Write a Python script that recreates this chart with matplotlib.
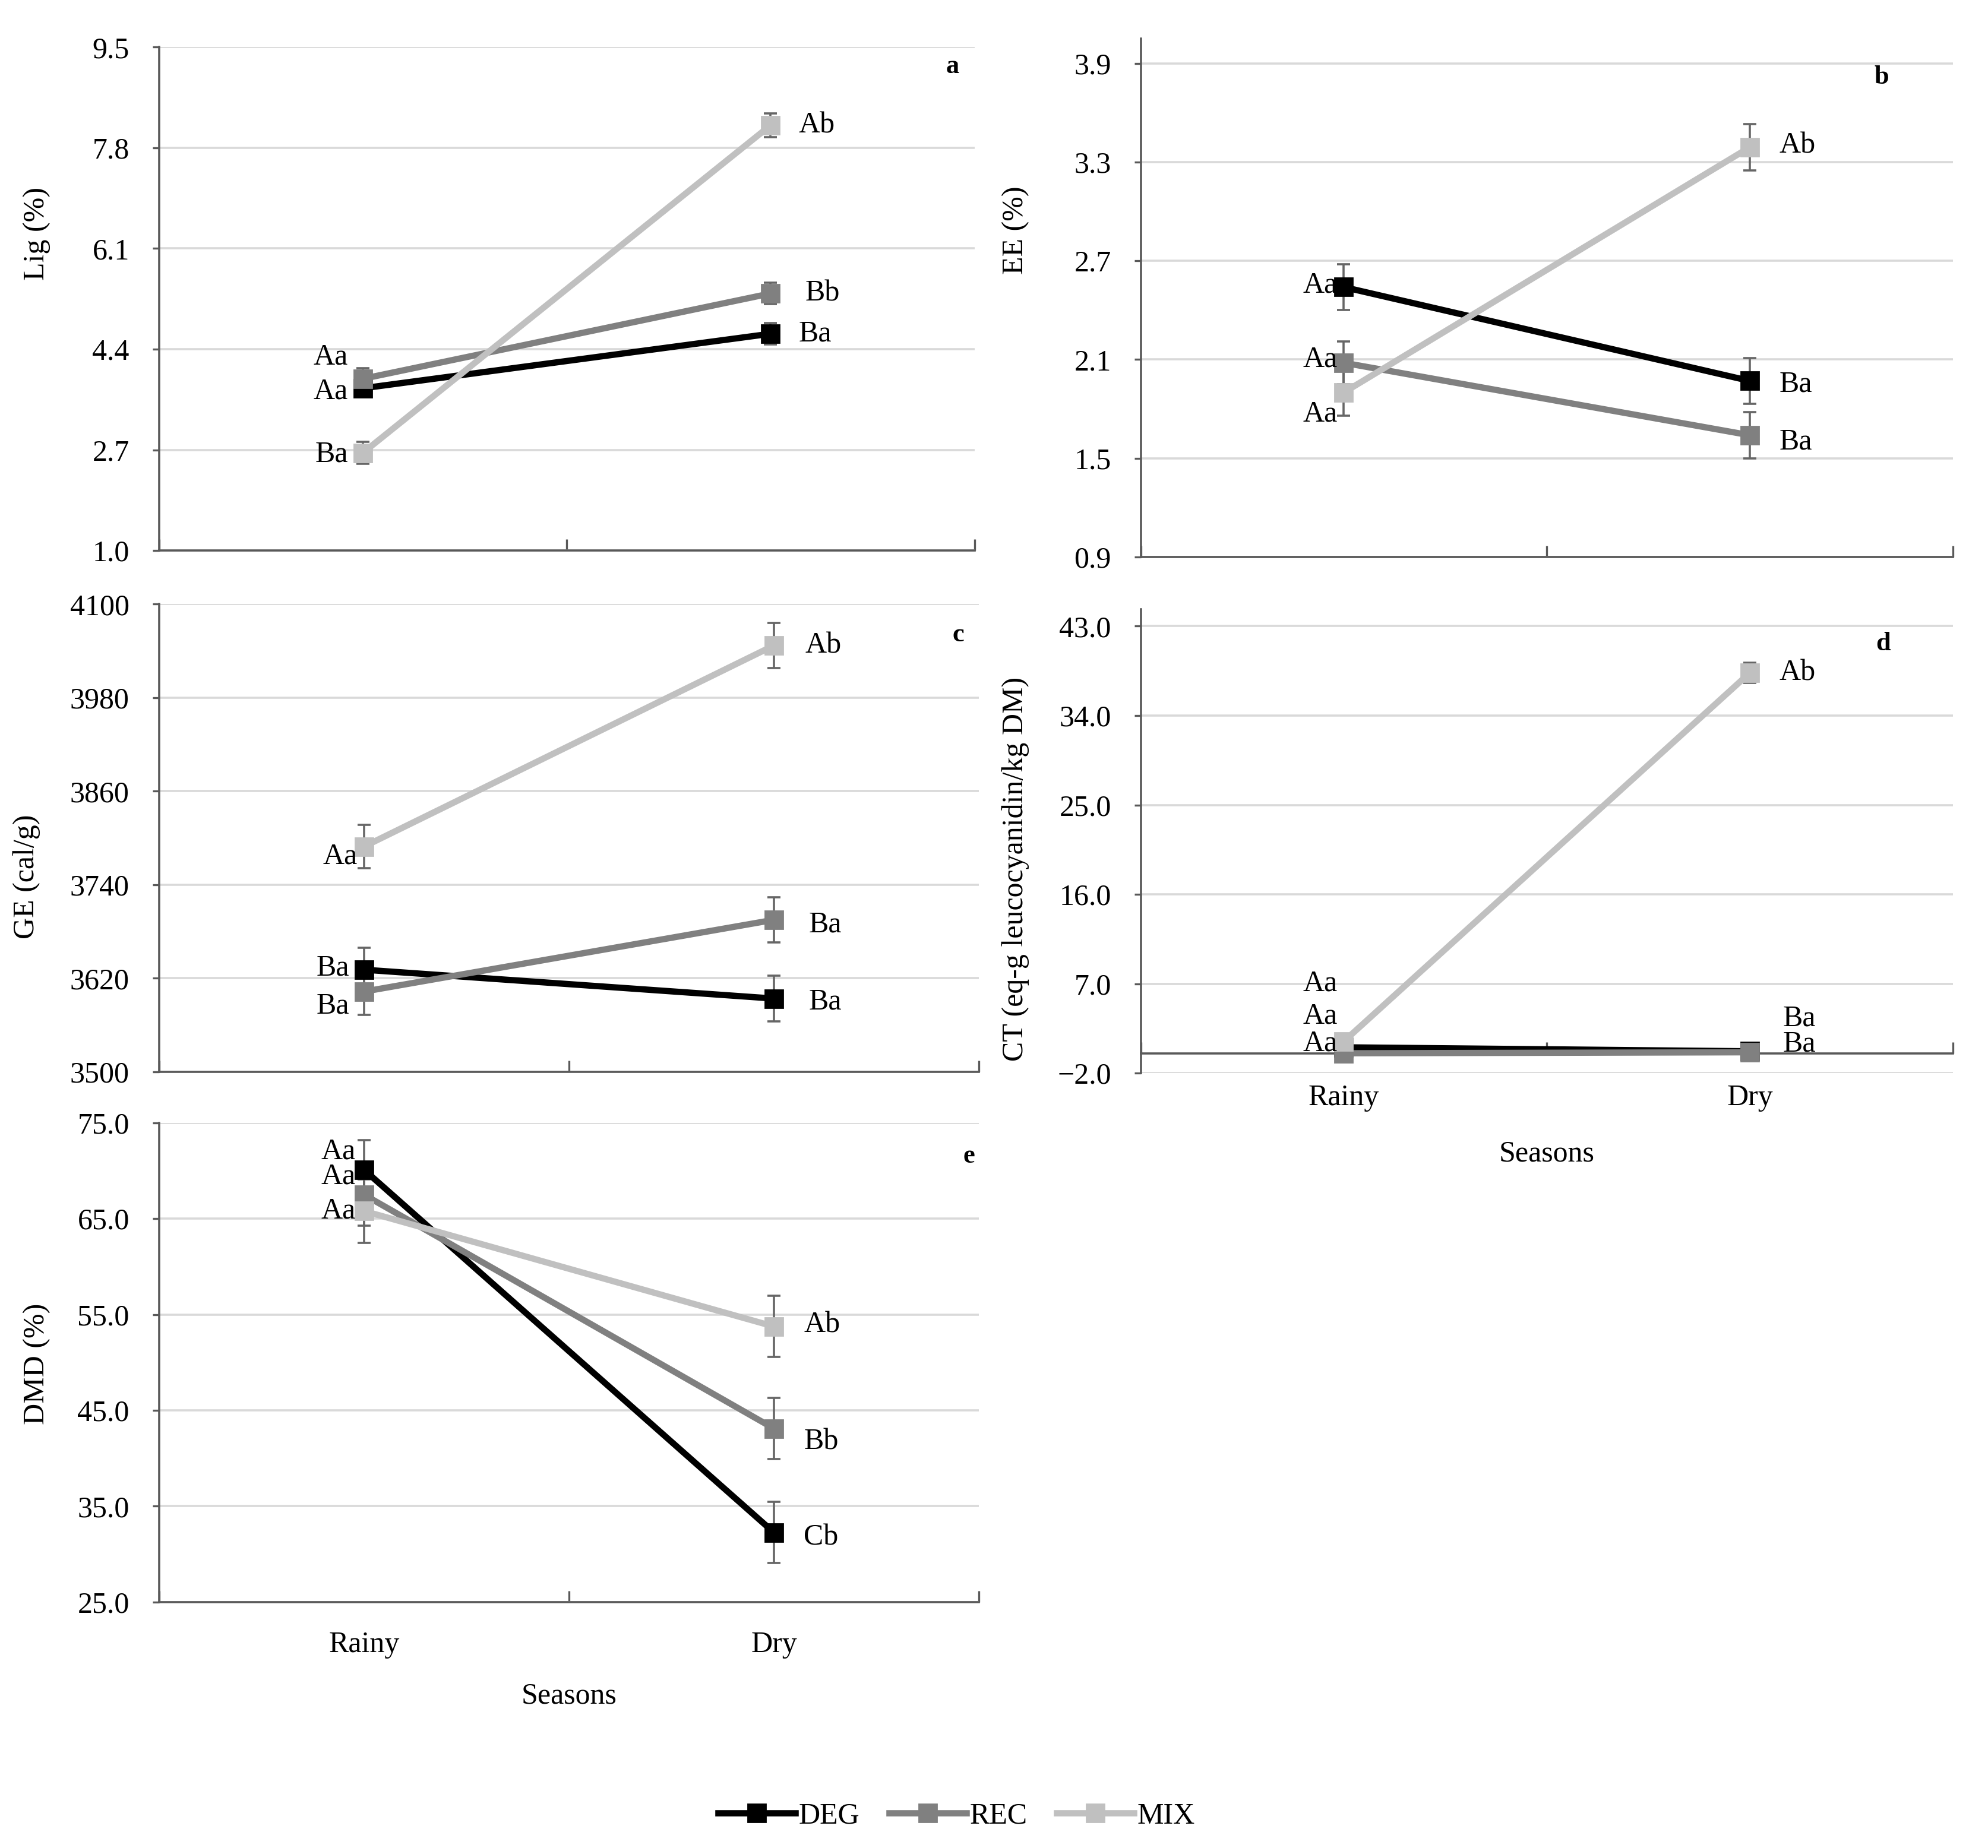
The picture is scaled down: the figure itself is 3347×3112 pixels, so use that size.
#!/usr/bin/env python3
"""
plot.py

Seasonal change of Lig, EE, GE, CT and DMD in three grassland groups
(DEG, REC, MIX). Five small line panels with error bars, shared legend.
"""

import matplotlib
matplotlib.use("Agg")
import matplotlib.pyplot as plt
from matplotlib.lines import Line2D

plt.rcParams['font.family'] = ['Liberation Serif', 'DejaVu Serif']

# ---- data -------------------------------------------------------------
seasons = ["Rainy", "Dry"]
groups = ["DEG", "REC", "MIX"]

# (a) lignin, %
lig_mean = {"DEG": [3.74, 4.66], "REC": [3.90, 5.34], "MIX": [2.65, 8.18]}
lig_err = {"DEG": [0.10, 0.18], "REC": [0.18, 0.18], "MIX": [0.19, 0.20]}
lig_letters = {"DEG": ["Aa", "Ba"], "REC": ["Aa", "Bb"], "MIX": ["Ba", "Ab"]}
lig_ticks = [1.0, 2.7, 4.4, 6.1, 7.8, 9.5]

# (b) ether extract, %
ee_mean = {"DEG": [2.54, 1.97], "REC": [2.08, 1.64], "MIX": [1.90, 3.39]}
ee_err = {"DEG": [0.14, 0.14], "REC": [0.13, 0.14], "MIX": [0.14, 0.14]}
ee_letters = {"DEG": ["Aa", "Ba"], "REC": ["Aa", "Ba"], "MIX": ["Aa", "Ab"]}
ee_ticks = [0.9, 1.5, 2.1, 2.7, 3.3, 3.9]

# (c) gross energy, cal/g
ge_mean = {"DEG": [3631, 3594], "REC": [3603, 3695], "MIX": [3789, 4047]}
ge_err = {"DEG": [28, 29], "REC": [30, 29], "MIX": [28, 29]}
ge_letters = {"DEG": ["Ba", "Ba"], "REC": ["Ba", "Ba"], "MIX": ["Aa", "Ab"]}
ge_ticks = [3500, 3620, 3740, 3860, 3980, 4100]

# (d) condensed tannins, eq-g leucocyanidin/kg DM
ct_mean = {"DEG": [0.6, 0.2], "REC": [0.0, 0.1], "MIX": [1.2, 38.3]}
ct_err = {"DEG": [0.4, 0.4], "REC": [0.4, 0.4], "MIX": [0.6, 1.0]}
ct_letters = {"DEG": ["Aa", "Ba"], "REC": ["Aa", "Ba"], "MIX": ["Aa", "Ab"]}
ct_ticks = [-2.0, 7.0, 16.0, 25.0, 34.0, 43.0]

# (e) dry matter digestibility, %
dmd_mean = {"DEG": [70.1, 32.25], "REC": [67.5, 43.1], "MIX": [65.8, 53.75]}
dmd_err = {"DEG": [3.1, 3.2], "REC": [3.2, 3.2], "MIX": [3.3, 3.2]}
dmd_letters = {"DEG": ["Aa", "Cb"], "REC": ["Aa", "Bb"], "MIX": ["Aa", "Ab"]}
dmd_ticks = [25.0, 35.0, 45.0, 55.0, 65.0, 75.0]

# ---- style ------------------------------------------------------------
colors = {"DEG": "#000000", "REC": "#808080", "MIX": "#c0c0c0"}
SPINE = "#595959"
GRID = "#d9d9d9"
FS = 18
x_pos = [0.5, 1.5]

# letter offsets in points (dx, dy) per group and season
off_a = {"DEG": [(-9, -2), (17, 0)], "REC": [(-9, 13), (21, 0)], "MIX": [(-9, -1), (17, 0)]}
off_b = {"DEG": [(-4, 1), (18, -2)], "REC": [(-4, 2), (18, -4)], "MIX": [(-4, -13), (18, 1)]}
off_c = {"DEG": [(-9, 1), (21, -2)], "REC": [(-9, -9), (21, -3)], "MIX": [(-4, -6), (19, 0)]}
off_d = {"DEG": [(-4, 19), (20, 20)], "REC": [(-4, 6), (20, 5)], "MIX": [(-4, 35), (18, 0)]}
off_e = {"DEG": [(-5, 11), (18, -3)], "REC": [(-5, 11), (18, -8)], "MIX": [(-5, 0), (18, 1)]}


def fmt_tick(v, dec):
    return f"{v:.{dec}f}".replace("-", "\u2212")


def draw_panel(ax, means, errs, letters, ticks, dec, ylim, offs,
               ylabel, ylabel_xy, tag, tag_xy, zero_axis=False):
    ax.set_xlim(0, 2)
    ax.set_ylim(*ylim)
    ax.set_yticks(ticks)
    ax.set_yticklabels([fmt_tick(t, dec) for t in ticks], fontsize=FS)
    ax.yaxis.grid(True, color=GRID, lw=1.3)
    ax.set_axisbelow(True)
    ax.set_xticks([0, 1, 2])
    ax.set_xticklabels([])
    ax.tick_params(axis='x', direction='in', length=7, width=1.2, color=SPINE)
    ax.tick_params(axis='y', direction='out', length=4, width=1.2, color=SPINE, pad=14)
    for s in ("top", "right"):
        ax.spines[s].set_visible(False)
    for s in ("left", "bottom"):
        ax.spines[s].set_color(SPINE)
        ax.spines[s].set_linewidth(1.3)
    if zero_axis:
        ax.spines["bottom"].set_position(("data", 0))

    for g in groups:
        ax.errorbar(x_pos, means[g], yerr=errs[g], color=colors[g], lw=3.8,
                    marker='s', ms=11, mfc=colors[g], mec=colors[g],
                    ecolor="#666666", elinewidth=1.3, capsize=4, capthick=1.3,
                    zorder=3)
        for i, x in enumerate(x_pos):
            dx, dy = offs[g][i]
            ax.annotate(letters[g][i], xy=(x, means[g][i]), xytext=(dx, dy),
                        textcoords='offset points', fontsize=FS,
                        ha='right' if i == 0 else 'left', va='center', zorder=5)

    ax.set_ylabel(ylabel, fontsize=FS)
    ax.yaxis.set_label_coords(*ylabel_xy)
    ax.text(tag_xy[0], tag_xy[1], tag, transform=ax.transAxes, fontsize=16,
            fontweight='bold', ha='center', va='center')


def season_labels(ax, pad, title_pad):
    for x, s in zip(x_pos, seasons):
        ax.annotate(s, xy=(x, 0), xycoords=('data', 'axes fraction'),
                    xytext=(0, -pad), textcoords='offset points',
                    ha='center', va='center', fontsize=FS)
    ax.annotate("Seasons", xy=(0.5, 0), xycoords='axes fraction',
                xytext=(0, -title_pad), textcoords='offset points',
                ha='center', va='center', fontsize=FS)


fig = plt.figure(figsize=(16.74, 15.56), dpi=200)

ax_a = fig.add_axes([0.0800, 0.7021, 0.4100, 0.2724])
ax_b = fig.add_axes([0.5737, 0.6986, 0.4083, 0.2805])
ax_c = fig.add_axes([0.0800, 0.4200, 0.4123, 0.2531])
ax_d = fig.add_axes([0.5737, 0.4193, 0.4083, 0.2510])
ax_e = fig.add_axes([0.0800, 0.1331, 0.4123, 0.2593])

draw_panel(ax_a, lig_mean, lig_err, lig_letters, lig_ticks, 1, (1.0, 9.5), off_a,
           "Lig (%)", (-0.133, 0.63), "a", (0.973, 0.962))
draw_panel(ax_b, ee_mean, ee_err, ee_letters, ee_ticks, 1, (0.9, 4.05), off_b,
           "EE (%)", (-0.137, 0.63), "b", (0.912, 0.926))
draw_panel(ax_c, ge_mean, ge_err, ge_letters, ge_ticks, 0, (3500, 4100), off_c,
           "GE (cal/g)", (-0.145, 0.417), "c", (0.975, 0.935))
draw_panel(ax_d, ct_mean, ct_err, ct_letters, ct_ticks, 1, (-2.0, 44.7), off_d,
           "CT (eq-g leucocyanidin/kg DM)", (-0.137, 0.44), "d", (0.914, 0.926),
           zero_axis=True)
draw_panel(ax_e, dmd_mean, dmd_err, dmd_letters, dmd_ticks, 1, (25.0, 75.0), off_e,
           "DMD (%)", (-0.132, 0.497), "e", (0.988, 0.931))

season_labels(ax_d, 15, 49)
season_labels(ax_e, 26, 57)

# legend: plain line + square marker, as in the original
handles = [Line2D([], [], color=colors[g], lw=3.8, marker='s', ms=11,
                  mfc=colors[g], mec=colors[g]) for g in groups]
fig.legend(handles, groups, loc='center', bbox_to_anchor=(0.481, 0.0172),
           ncol=3, frameon=False, fontsize=FS, handlelength=2.6,
           handletextpad=0.1, columnspacing=1.0)

fig.savefig("out.png", dpi=200)
